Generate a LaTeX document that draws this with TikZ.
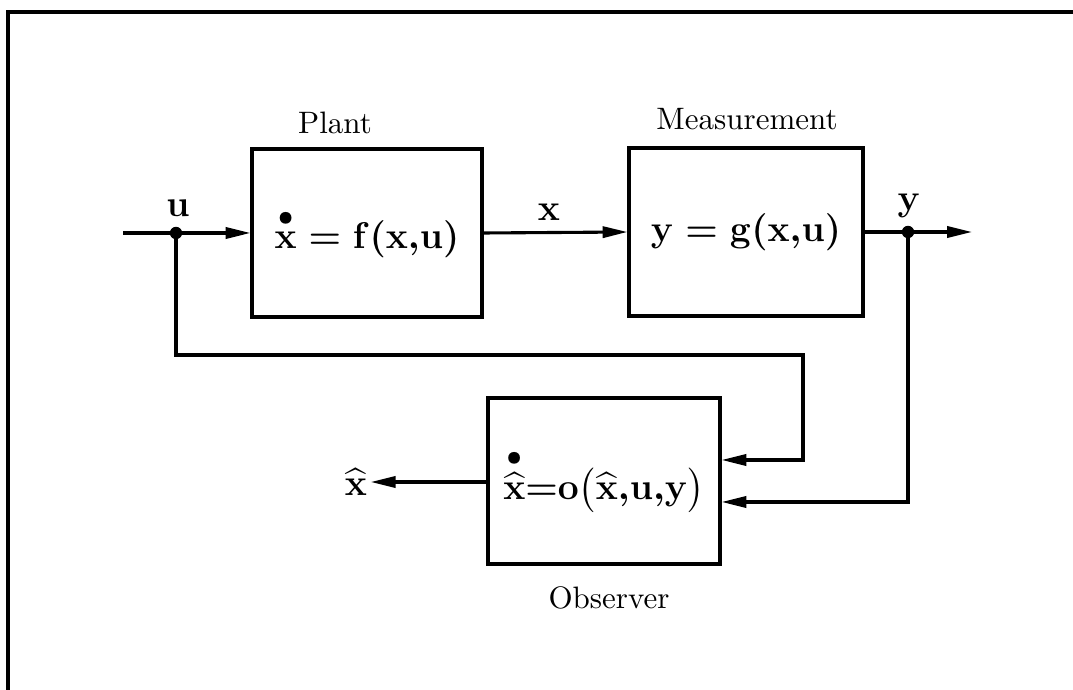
\documentclass[tikz,border=0pt]{standalone}
\usepackage{amsmath}
\usetikzlibrary{arrows.meta}
\tikzset{
  blk/.style={draw, line width=1pt, inner sep=0pt, font=\large\boldmath},
  conn/.style={line width=1pt},
  arr/.style={conn, -{Triangle[length=8pt, width=3.6pt]}},
  jdot/.style={circle, fill, inner sep=0pt, minimum size=4pt},
  lbl/.style={font=\large\boldmath, inner sep=1pt},
  captxt/.style={font=\normalsize, inner sep=1pt}
}
\begin{document}
\begin{tikzpicture}[x=0.3226pt, y=-0.3226pt]
\useasboundingbox (0,0) rectangle (1073,690);
% frame (top and left sides)
\draw[line width=1.4pt] (8,690) -- (8,12) -- (1073,12);

% blocks
\node[blk, minimum width={230*0.3226pt}, minimum height={168*0.3226pt}] (plant) at (367,233)
  {$\overset{\bullet}{\mathbf{x}} = \mathbf{f}(\mathbf{x}{,}\mathbf{u})$};
\node[blk, minimum width={234*0.3226pt}, minimum height={168*0.3226pt}] (meas) at (746,232)
  {$\mathbf{y} = \mathbf{g}(\mathbf{x}{,}\mathbf{u})$};
\node[blk, minimum width={232*0.3226pt}, minimum height={166*0.3226pt}] (obs) at (604,481)
  {$\overset{\bullet}{\widehat{\mathbf{x}}}{=}\mathbf{o}\bigl(\widehat{\mathbf{x}}{,}\mathbf{u}{,}\mathbf{y}\bigr)$};

% captions
\node[captxt] (plantcap) at (335,123) {Plant};
\node[captxt] (meascap) at (747,119) {Measurement};
\node[captxt] (obscap) at (609,598) {Observer};

% signal coordinates
\coordinate (uin) at (123,233);
\node[jdot] (uj) at (176,233) {};
\node[jdot] (yj) at (908,232) {};
\coordinate (yout) at (972,232);
\coordinate (c1) at (176,355);
\coordinate (c2) at (803,355);
\coordinate (l1) at (0,460);
\coordinate (l2) at (0,502);
\coordinate (l3) at (0,482);

% labels
\node[lbl] (ulbl) at (178,208) {$\mathbf{u}$};
\node[lbl] (xlbl) at (549,212) {$\mathbf{x}$};
\node[lbl] (ylbl) at (909,206) {$\mathbf{y}$};
\node[lbl] (xhat) at (356,482) {$\widehat{\mathbf{x}}$};

% connectors
\draw[arr] (uin) -- (plant.west);
\draw[arr] (plant.east) -- (meas.west);
\draw[arr] (meas.east) -- (yout);
\draw[arr] (uj.center) -- (c1) -- (c2) |- (obs.east |- l1);
\draw[arr] (yj.center) |- (obs.east |- l2);
\draw[arr] (obs.west |- l3) -- (xhat.east |- l3);
\end{tikzpicture}
\end{document}
